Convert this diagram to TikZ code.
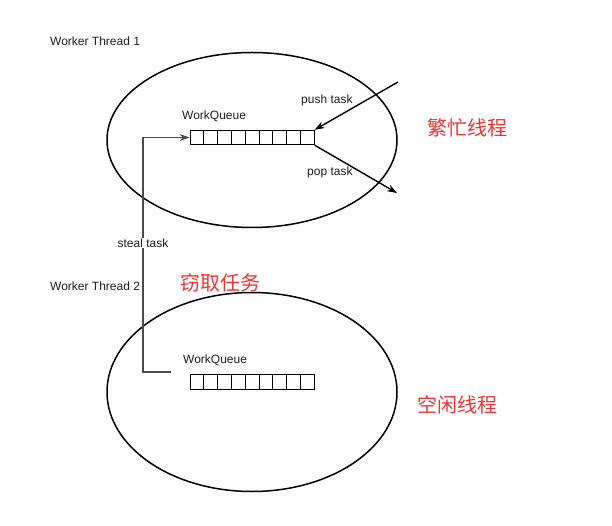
\documentclass[tikz,border=0pt]{standalone}
\usepackage{fontspec}
\setmainfont{Liberation Sans}
\newfontfamily\cjk{Noto Sans CJK SC}
\usetikzlibrary{shapes.geometric,arrows.meta}
\definecolor{hint}{RGB}{236,52,52}
\definecolor{ink}{RGB}{30,30,30}

\begin{document}
\begin{tikzpicture}[x=1pt, y=-1pt,
  thread/.style = {draw, ellipse, line width=1.5pt, minimum width=290pt, minimum height=175pt, inner sep=0pt},
  cell/.style = {draw, minimum width=13.8pt, minimum height=14.5pt, inner sep=0pt, line width=0.8pt},
  txt/.style = {font=\fontsize{12}{14}\selectfont, text=ink, inner sep=0pt, anchor=west},
  note/.style = {font=\cjk\fontsize{20}{23}\selectfont, text=hint, inner sep=0pt, anchor=west},
  arr/.style = {line width=1.4pt, -{Stealth[length=10pt,width=7pt]}},
  steal/.style = {draw=ink!80, line width=1.2pt, -{Stealth[length=10pt,width=7pt]}}]
\useasboundingbox (0,0) rectangle (612,526);

% threads
\node[thread] (t1) at (252,140) {};
\node[thread, minimum height=199pt] (t2) at (252,392) {};

% queues
\foreach \i in {1,...,9} {
  \node[cell] (a\i) at ({190+13.8*(\i-0.5)},137.5) {};
  \node[cell] (b\i) at ({190+13.8*(\i-0.5)},382) {};
}

% labels
\node[txt] (w1) at (50,41) {Worker Thread 1};
\node[txt] (w2) at (50,286) {Worker Thread 2};
\node[txt] (q1) at (182,116) {WorkQueue};
\node[txt] (q2) at (183,360) {WorkQueue};
\node[txt] (push) at (301,100) {push task};
\node[txt] (pop) at (307,172) {pop task};

% push / pop
\coordinate (pushin) at (398,82);
\coordinate (popout) at (397,193);
\draw[arr] (pushin) -- (a9.north east);
\draw[arr] (a9.south east) -- (popout);

% steal
\coordinate (s0) at (171,372);
\coordinate (s1) at (143,372);
\draw[steal] (s0) -- (s1) |- (a1.west);
\node[txt, fill=white, inner sep=1pt, anchor=center] (st) at (143,243) {steal task};

% notes
\node[note] (busy) at (427,128) {繁忙线程};
\node[note] (take) at (180,283) {窃取任务};
\node[note] (idle) at (417,405) {空闲线程};
\end{tikzpicture}
\end{document}
